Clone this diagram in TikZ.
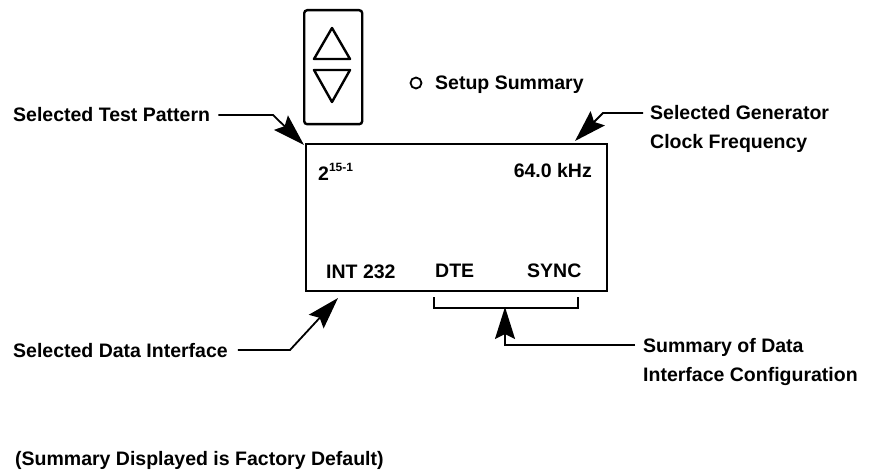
\documentclass[tikz,border=0pt]{standalone}
\usepackage{fontspec}
\setmainfont{Liberation Sans}
\usetikzlibrary{arrows.meta}
\begin{document}
\begin{tikzpicture}[x=1pt,y=-1pt,
  lbl/.style={inner sep=0pt, font=\fontsize{19.5}{22}\selectfont\bfseries, text height=14pt, text depth=0pt},
  conn/.style={line width=1.8pt, -{Stealth[length=32pt,width=20pt,inset=5pt]}},
  frame/.style={draw, line width=2.4pt, inner sep=0pt},
  tri/.style={line width=2.4pt, line join=round}]
\useasboundingbox (0,0) rectangle (874,473);

% keypad
\node[frame, rounded corners=3pt, minimum width=58pt, minimum height=114pt, anchor=north west] (keypad) at (303,9) {};
\draw[tri] (314,59) -- (350,59) -- (332,28) -- cycle;
\draw[tri] (314,70) -- (350,70) -- (332,102) -- cycle;

% setup summary
\node[draw, circle, line width=1.8pt, minimum size=11pt, inner sep=0pt] (led) at (416,83) {};
\node[lbl, anchor=base west] (setup) at (435,90) {Setup Summary};

% display
\node[frame, minimum width=301pt, minimum height=147pt, anchor=north west] (disp) at (305,143) {};
\node[lbl, anchor=base west] (patt) at (318,180) {2\raisebox{9pt}{\fontsize{12}{12}\selectfont 15-1}};
\node[lbl, anchor=base east] (freq) at (592,178) {64.0 kHz};
\node[lbl, anchor=base west] (int) at (326,278) {INT 232};
\node[lbl, anchor=base west] (dte) at (435,277) {DTE};
\node[lbl, anchor=base west] (sync) at (527,277) {SYNC};

% bracket
\coordinate (brL) at (434,297);
\coordinate (brR) at (578,297);
\coordinate (brM) at (505,308);
\draw[line width=1.8pt] (brL) -- (434,308) -- (578,308) -- (brR);

% labels
\node[lbl, anchor=base west] (tp) at (13,122) {Selected Test Pattern};
\node[lbl, anchor=base west] (gen1) at (650,120) {Selected Generator};
\node[lbl, anchor=base west] (gen2) at (650,149) {Clock Frequency};
\node[lbl, anchor=base west] (di) at (13,357) {Selected Data Interface};
\node[lbl, anchor=base west] (sum1) at (643,352) {Summary of Data};
\node[lbl, anchor=base west] (sum2) at (643,381) {Interface Configuration};
\node[lbl, anchor=base west] (foot) at (15,465) {(Summary Displayed is Factory Default)};

% arrow targets
\coordinate (tpTip) at (304,145);
\coordinate (genTip) at (575,141);
\coordinate (diTip) at (338,298);

% connectors
\draw[conn] ([xshift=8pt]tp.east) -- (273,115) -- (tpTip);
\draw[conn] ([xshift=-7pt]gen1.west) -- (603,113) -- (genTip);
\draw[conn] ([xshift=10pt]di.east) -- (290,350) -- (diTip);
\draw[conn] ([xshift=-8pt]sum1.west) -- (505,345) -- ([yshift=1pt]brM);
\end{tikzpicture}
\end{document}
